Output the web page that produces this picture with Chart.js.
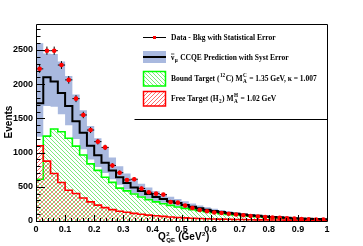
<!DOCTYPE html>
<html>
<head>
<meta charset="utf-8">
<script src="https://cdn.jsdelivr.net/npm/chart.js@4.4.1/dist/chart.umd.min.js"></script>
<style>
  html, body { margin: 0; padding: 0; background: #fff; }
  #wrap { width: 363px; height: 246px; }
</style>
</head>
<body>
<div id="wrap"><canvas id="chart" width="363" height="246"></canvas></div>
<script>
// bins of Q2_QE, width 0.025 GeV^2, left edges from 0 to 0.975
const binWidth = 0.025;
const binEdges = Array.from({ length: 41 }, (_, i) => +(i * binWidth).toFixed(3));

const dataValues = [2224, 2490, 2490, 2280, 2063, 1789, 1550, 1330, 1160, 1076,
  812, 706, 600, 611, 475, 420, 400, 386, 277, 268,
  225, 190, 160, 142, 125, 117, 105, 94, 85, 73,
  65, 59, 52, 46, 40, 35, 30, 26, 22, 20];
const dataErrors = [57, 60, 60, 57, 55, 51, 47, 44, 41, 39,
  34, 32, 29, 30, 26, 25, 24, 24, 20, 20,
  18, 17, 15, 14, 13, 13, 12, 12, 11, 10,
  10, 9, 9, 8, 8, 7, 7, 6, 6, 5];

const mcPrediction = [1720, 2100, 2040, 1870, 1680, 1460, 1290, 1100, 960, 850,
  740, 640, 555, 490, 440, 395, 350, 320, 290, 262,
  235, 210, 185, 165, 148, 132, 118, 105, 94, 84,
  75, 67, 60, 53, 47, 42, 37, 33, 29, 26];
const mcUpper = [2600, 2450, 2440, 2330, 2120, 1850, 1620, 1390, 1210, 1070,
  930, 800, 695, 610, 545, 490, 435, 395, 355, 320,
  287, 256, 225, 200, 180, 160, 143, 127, 114, 102,
  91, 81, 73, 64, 57, 51, 45, 40, 35, 32];
const mcLower = [1230, 1680, 1670, 1560, 1400, 1200, 1050, 900, 790, 700,
  610, 530, 460, 405, 365, 328, 290, 265, 240, 217,
  195, 174, 153, 137, 123, 110, 98, 87, 78, 70,
  62, 55, 50, 44, 39, 35, 31, 27, 24, 22];

const boundTarget = [611, 1241, 1344, 1305, 1210, 1095, 965, 835, 740, 640,
  565, 480, 440, 395, 350, 312, 280, 252, 228, 205,
  185, 166, 150, 135, 121, 108, 97, 87, 78, 70,
  62, 55, 49, 44, 39, 35, 31, 27, 24, 21];
const freeTarget = [1100, 875, 695, 563, 450, 402, 337, 279, 232, 196,
  167, 142, 128, 112, 98, 86, 76, 67, 59, 52,
  46, 41, 37, 33, 30, 27, 25, 23, 21, 19,
  17, 16, 15, 14, 13, 12, 11, 10, 9, 8];

const xTickValues = [0, 0.1, 0.2, 0.3, 0.4, 0.5, 0.6, 0.7, 0.8, 0.9, 1];
const yTickValues = [0, 500, 1000, 1500, 2000, 2500];
const yMax = 2880;

// histogram as stepped line: point at each left edge, plus closing point at the last edge
function histPoints(values) {
  const pts = values.map((v, i) => ({ x: binEdges[i], y: v }));
  pts.push({ x: binEdges[values.length], y: values[values.length - 1] });
  return pts;
}

function hatch(color, dir) {
  const s = 4;
  const c = document.createElement("canvas");
  c.width = s; c.height = s;
  const g = c.getContext("2d");
  g.strokeStyle = color;
  g.lineWidth = 0.8;
  g.beginPath();
  for (let k = -1; k <= 1; k++) {
    if (dir === "\\") { g.moveTo(k * s, 0); g.lineTo(k * s + s, s); }
    else { g.moveTo(k * s, s); g.lineTo(k * s + s, 0); }
  }
  g.stroke();
  return g.createPattern(c, "repeat");
}

const bandColor = "#a9b9df";
const greenHatch = hatch("#5ae65a", "\\");
const redHatch = hatch("#ff4848", "/");
const tickFont = "'Liberation Sans', Arial";

// inward ticks, frame, error bars, titles and legend
const framePlugin = {
  id: "frame",
  beforeDatasetDraw(chart, args) {
    if (args.index !== 0) return;
    const ctx = chart.ctx;
    const xs = chart.scales.x, ys = chart.scales.y;
    ctx.save();
    ctx.strokeStyle = "#000";
    ctx.lineWidth = 1;
    ctx.beginPath();
    dataValues.forEach((v, i) => {
      const xc = xs.getPixelForValue(binEdges[i] + binWidth / 2);
      const x0 = xs.getPixelForValue(binEdges[i]);
      const x1 = xs.getPixelForValue(binEdges[i + 1]);
      const yc = ys.getPixelForValue(v);
      const y0 = ys.getPixelForValue(v - dataErrors[i]);
      const y1 = ys.getPixelForValue(v + dataErrors[i]);
      ctx.moveTo(x0, yc); ctx.lineTo(x1, yc);
      ctx.moveTo(xc, y0); ctx.lineTo(xc, y1);
    });
    ctx.stroke();
    ctx.restore();
  },
  afterDraw(chart) {
    const ctx = chart.ctx;
    const a = chart.chartArea;
    const xs = chart.scales.x, ys = chart.scales.y;
    ctx.save();

    // frame and inward ticks
    ctx.strokeStyle = "#000";
    ctx.lineWidth = 1;
    ctx.beginPath();
    for (let v = 0; v <= yMax; v += 100) {
      const y = Math.round(ys.getPixelForValue(v)) + 0.5;
      const len = v % 500 === 0 ? 9 : 4.5;
      ctx.moveTo(a.left, y); ctx.lineTo(a.left + len, y);
    }
    for (let i = 0; i <= 50; i++) {
      const x = Math.round(xs.getPixelForValue(i * 0.02)) + 0.5;
      const len = i % 5 === 0 ? 6 : 3;
      ctx.moveTo(x, a.bottom); ctx.lineTo(x, a.bottom - len);
    }
    const L = Math.round(a.left) + 0.5, R = Math.round(a.right) + 0.5;
    const T = Math.round(a.top) + 0.5, B = Math.round(a.bottom) + 0.5;
    ctx.moveTo(L, T); ctx.lineTo(R, T); ctx.lineTo(R, B); ctx.lineTo(L, B); ctx.closePath();
    ctx.stroke();

    ctx.fillStyle = "#000";
    // axis titles
    drawRich(ctx, 158, 240, [["Q", "n"], [["QE", "2"], "ss"], [" (GeV", "n"], ["2", "sup"], [")", "n"]],
      "bold 10px " + tickFont, "bold 6px " + tickFont);
    ctx.save();
    ctx.translate(12, 122);
    ctx.rotate(-Math.PI / 2);
    ctx.font = "bold 10px " + tickFont;
    ctx.textAlign = "center";
    ctx.fillText("Events", 0, 0);
    ctx.restore();

    // legend box
    ctx.beginPath();
    ctx.moveTo(134.5, 119.5);
    ctx.lineTo(R, 119.5);
    ctx.stroke();

    const big = "bold 7.5px 'Liberation Serif', 'Times New Roman', serif";
    const small = "bold 5.2px 'Liberation Serif', 'Times New Roman', serif";
    const tx = 171;

    // data entry
    ctx.beginPath();
    ctx.moveTo(143, 37.5); ctx.lineTo(166, 37.5);
    ctx.stroke();
    ctx.fillStyle = "#ff0000";
    ctx.fillRect(153, 36, 3, 3);
    ctx.fillStyle = "#000";
    drawRich(ctx, tx, 40, [["Data - Bkg with Statistical Error", "n"]], big, small);

    // prediction entry
    ctx.fillStyle = bandColor;
    ctx.fillRect(143, 51, 23, 12);
    ctx.lineWidth = 2;
    ctx.beginPath();
    ctx.moveTo(143, 57); ctx.lineTo(166, 57);
    ctx.stroke();
    ctx.fillStyle = "#000";
    const endNu = drawRich(ctx, tx, 60, [["ν", "n"]], big, small);
    ctx.lineWidth = 0.7;
    ctx.beginPath();
    ctx.moveTo(tx, 54); ctx.lineTo(endNu, 54);
    ctx.stroke();
    drawRich(ctx, endNu, 60, [["μ", "sub"], [" CCQE Prediction with Syst Error", "n"]], big, small);

    // bound target entry
    ctx.fillStyle = greenHatch;
    ctx.fillRect(143, 71, 23, 15);
    ctx.strokeStyle = "#00ff00";
    ctx.lineWidth = 1.5;
    ctx.strokeRect(143.5, 71.5, 22, 14.5);
    ctx.fillStyle = "#000";
    drawRich(ctx, tx, 81, [["Bound Target (", "n"], ["12", "sup"], ["C) M", "n"], [["A", "C"], "ss"],
      [" = 1.35 GeV, κ = 1.007", "n"]], big, small);

    // free target entry
    ctx.fillStyle = redHatch;
    ctx.fillRect(143, 91, 23, 15);
    ctx.strokeStyle = "#ff0000";
    ctx.strokeRect(143.5, 91.5, 22, 14.5);
    ctx.fillStyle = "#000";
    drawRich(ctx, tx, 101, [["Free Target (H", "n"], ["2", "sub"], [") M", "n"], [["A", "H"], "ss"],
      [" = 1.02 GeV", "n"]], big, small);

    ctx.restore();
  }
};

// text with sub/superscripts, returns the end x
function drawRich(ctx, x, y, parts, bigFont, smallFont) {
  ctx.textAlign = "left";
  ctx.textBaseline = "alphabetic";
  for (const [t, mode] of parts) {
    if (mode === "n") {
      ctx.font = bigFont;
      ctx.fillText(t, x, y);
      x += ctx.measureText(t).width;
    } else if (mode === "sup") {
      ctx.font = smallFont;
      ctx.fillText(t, x + 0.5, y - 4);
      x += ctx.measureText(t).width + 1;
    } else if (mode === "sub") {
      ctx.font = smallFont;
      ctx.fillText(t, x + 0.5, y + 2);
      x += ctx.measureText(t).width + 1;
    } else {
      ctx.font = smallFont;
      ctx.fillText(t[0], x + 0.5, y + 2);
      ctx.fillText(t[1], x + 0.5, y - 4);
      x += Math.max(ctx.measureText(t[0]).width, ctx.measureText(t[1]).width) + 1;
    }
  }
  return x;
}

const stepLine = { stepped: true, pointRadius: 0, tension: 0 };

new Chart(document.getElementById("chart"), {
  type: "line",
  data: {
    datasets: [
      {
        label: "Data - Bkg with Statistical Error",
        data: dataValues.map((v, i) => ({ x: binEdges[i] + binWidth / 2, y: v })),
        showLine: false,
        pointRadius: 2.3,
        pointBackgroundColor: "#ff0000",
        pointBorderColor: "#ff0000",
        pointBorderWidth: 0,
        order: 0
      },
      {
        label: "CCQE Prediction",
        data: histPoints(mcPrediction),
        ...stepLine,
        borderColor: "#000",
        borderWidth: 2,
        fill: false,
        order: 1
      },
      {
        label: "Free Target",
        data: histPoints(freeTarget),
        ...stepLine,
        borderColor: "#ff0000",
        borderWidth: 1.6,
        backgroundColor: redHatch,
        fill: "origin",
        order: 2
      },
      {
        label: "Bound Target",
        data: histPoints(boundTarget),
        ...stepLine,
        borderColor: "#00ff00",
        borderWidth: 1.6,
        backgroundColor: greenHatch,
        fill: "origin",
        order: 3
      },
      {
        label: "Syst upper",
        data: histPoints(mcUpper),
        ...stepLine,
        borderWidth: 0,
        borderColor: "rgba(0,0,0,0)",
        backgroundColor: bandColor,
        fill: "+1",
        order: 4
      },
      {
        label: "Syst lower",
        data: histPoints(mcLower),
        ...stepLine,
        borderWidth: 0,
        borderColor: "rgba(0,0,0,0)",
        fill: false,
        order: 5
      }
    ]
  },
  options: {
    responsive: false,
    animation: false,
    layout: { padding: { top: 24, right: 36, left: 0, bottom: 0 } },
    plugins: { legend: { display: false }, tooltip: { enabled: false } },
    scales: {
      x: {
        type: "linear",
        min: 0,
        max: 1,
        grid: { display: false, drawTicks: false },
        border: { display: false },
        afterBuildTicks: s => { s.ticks = xTickValues.map(v => ({ value: v })); },
        afterFit: s => { s.height = 25; },
        ticks: {
          padding: 3,
          color: "#000",
          maxRotation: 0,
          font: { family: tickFont, weight: "bold", size: 9 },
          callback: v => String(+v.toFixed(1))
        }
      },
      y: {
        min: 0,
        max: yMax,
        grid: { display: false, drawTicks: false },
        border: { display: false },
        afterBuildTicks: s => { s.ticks = yTickValues.map(v => ({ value: v })); },
        afterFit: s => { s.width = 36; },
        ticks: {
          padding: 3,
          color: "#000",
          font: { family: tickFont, weight: "bold", size: 9 },
          callback: v => String(v)
        }
      }
    }
  },
  plugins: [framePlugin]
});
</script>
</body>
</html>
